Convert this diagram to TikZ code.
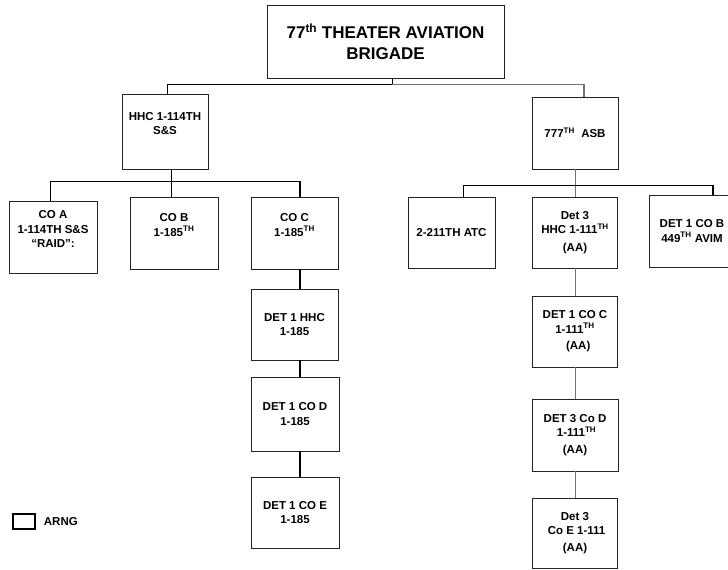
\documentclass[tikz,border=0pt]{standalone}
\usepackage{fontspec}
\setmainfont{Liberation Sans}
\definecolor{ln}{RGB}{35,35,35}
\definecolor{lg}{RGB}{115,115,115}
\usetikzlibrary{positioning}

\begin{document}
\begin{tikzpicture}[unit/.style={rectangle, draw=ln, line width=0.9pt, align=center, inner sep=0pt, minimum width=86pt, minimum height=72pt, font=\bfseries\fontsize{11.5}{14.5}\selectfont},
  upper/.style={text depth=16pt}]
\useasboundingbox (0pt,0pt) rectangle (728pt,-570pt);
% brigade
\node (top) [unit, minimum width=237pt, minimum height=73pt, font=\bfseries\fontsize{17}{20.5}\selectfont] at (385.5pt, -41.5pt) {77\textsuperscript{th} THEATER AVIATION\\BRIGADE};
% left branch
\node (hhc) [unit, upper, minimum height=75pt] at (165pt, -131.5pt) {HHC 1-114TH\\S\&S};
\node (coa) [unit, upper, minimum width=88pt] at (53pt, -237pt) {CO A\\1-114TH S\&S\\“RAID”:};
\node (cob) [unit, upper, minimum width=88pt] at (174pt, -233pt) {CO B\\1-185\textsuperscript{TH}};
\node (coc) [unit, upper, minimum width=87pt] at (294.5pt, -233pt) {CO C\\1-185\textsuperscript{TH}};
\node (dethhc) [unit, minimum width=87pt, minimum height=71pt] at (294.5pt, -324.5pt) {DET 1 HHC\\1-185};
\node (detcod) [unit, minimum width=88pt, minimum height=74pt] at (295pt, -414pt) {DET 1 CO D\\1-185};
\node (detcoe) [unit, minimum width=88pt, minimum height=71pt] at (295pt, -512.5pt) {DET 1 CO E\\1-185};
% right branch
\node (asb) [unit] at (575pt, -133pt) {777\textsuperscript{TH}\ \ ASB};
\node (atc) [unit, minimum width=87pt, minimum height=71pt] at (451.5pt, -232.5pt) {2-211TH ATC};
\node (dethhc3) [unit, minimum width=85pt, minimum height=71pt] at (575pt, -232.5pt) {Det 3\\HHC 1-111\textsuperscript{TH}\\[3pt](AA)};
\node (detcob) [unit] at (692pt, -231pt) {DET 1 CO B\\449\textsuperscript{TH} AVIM};
\node (detcoc) [unit, minimum width=85pt, minimum height=71pt] at (575pt, -331.5pt) {DET 1 CO C\\1-111\textsuperscript{TH}\\[2pt]\ \ (AA)};
\node (detcod3) [unit] at (575pt, -435pt) {DET 3 Co D\\\ 1-111\textsuperscript{TH}\\[2pt](AA)};
\node (detcoe3) [unit, minimum width=85pt, minimum height=70pt] at (575pt, -533pt) {Det 3\\\ Co E 1-111\\[2pt](AA)};
% legend
\node (key) [rectangle, draw=black, line width=1.4pt, minimum width=22pt, minimum height=15pt, inner sep=0pt] at (24pt, -521.5pt) {};
\node (keytext) [right=8pt of key, inner sep=0pt, font=\bfseries\fontsize{11.5}{14}\selectfont] {ARNG};
% connectors
\draw [line width=1pt, color=black] ([xshift=2pt]hhc.north) |- ([xshift=6.5pt, yshift=-6pt]top.south) -- ([xshift=6.5pt]top.south);
\draw [line width=1.4pt, color=lg] ([xshift=9pt]asb.north) |- ([xshift=6.5pt, yshift=-6pt]top.south);
\coordinate (hbus) at ([xshift=6pt, yshift=-12pt]hhc.south);
\draw [line width=1pt, color=black] ([xshift=6pt]hhc.south) -- ([xshift=-3pt]cob.north);
\draw [line width=1pt, color=black] ([xshift=-3pt]coa.north) |- (hbus);
\draw [line width=1.6pt, color=black] (hbus) -| ([xshift=5.5pt]coc.north);
\draw [line width=1.8pt, color=black] ([xshift=5.5pt]coc.south) -- ([xshift=5.5pt]dethhc.north);
\draw [line width=1.8pt, color=black] ([xshift=5.5pt]dethhc.south) -- ([xshift=5pt]detcod.north);
\draw [line width=1.8pt, color=black] ([xshift=5pt]detcod.south) -- ([xshift=5pt]detcoe.north);
\draw [line width=1pt, color=lg] (asb.south) -- (dethhc3.north);
\draw [line width=1.8pt, color=black] ([xshift=12pt]atc.north) -- ++(0pt,11pt) -| ([xshift=21pt]detcob.north);
\draw [line width=1pt, color=lg] (dethhc3.south) -- (detcoc.north);
\draw [line width=1pt, color=lg] (detcoc.south) -- (detcod3.north);
\draw [line width=1pt, color=lg] (detcod3.south) -- (detcoe3.north);
\end{tikzpicture}
\end{document}
